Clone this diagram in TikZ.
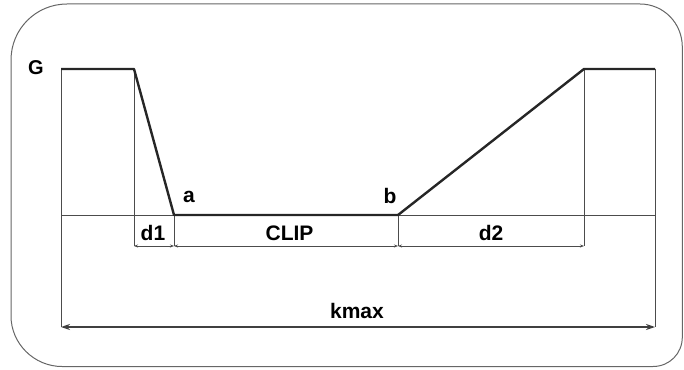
\documentclass[tikz,border=0pt]{standalone}
\usepackage{fontspec}
\setmainfont{Liberation Sans}
\usetikzlibrary{arrows.meta}
\begin{document}
\begin{tikzpicture}[x=1pt,y=-1pt,
  profile/.style={line width=2.4pt, draw=black!85, line join=round},
  thin/.style={line width=0.8pt, draw=black!70},
  dim/.style={line width=0.8pt, draw=black!70, {Stealth[length=4pt,width=3pt]}-{Stealth[length=4pt,width=3pt]}},
  bigdim/.style={line width=1.4pt, draw=black!75, {Stealth[length=9pt,width=6pt]}-{Stealth[length=9pt,width=6pt]}},
  lab/.style={font=\fontsize{21}{21}\selectfont\bfseries, text=black, inner sep=0pt},
  labg/.style={font=\fontsize{20}{20}\selectfont\bfseries, text=black, inner sep=0pt},
  frame/.style={line width=1pt, draw=black!60}]
\useasboundingbox (0,0) rectangle (684,369);
% outer frame with unequal corner radii
\draw[frame] (67,4) -- (640,4)
  .. controls (663.7,4) and (682.3,23.3) .. (682.3,47)
  -- (682.3,337)
  .. controls (682.3,353.5) and (669.5,366.5) .. (653,366.5)
  -- (62,366.5)
  .. controls (34,366.5) and (11,343.5) .. (11,316)
  -- (11,60)
  .. controls (11,29) and (36,4) .. (67,4) -- cycle;
% profile points
\coordinate (p0) at (61,69);
\coordinate (p1) at (134,69);
\coordinate (pa) at (174,215);
\coordinate (pb) at (398,215);
\coordinate (p4) at (584,69);
\coordinate (p5) at (655,69);
% base line and verticals
\coordinate (bl) at (61,215);
\coordinate (br) at (655,215);
\coordinate (k0) at (61,327);
\coordinate (k1) at (655,327);
\coordinate (d0) at (134,246);
\coordinate (d1) at (174,246);
\coordinate (d2) at (398,246);
\coordinate (d3) at (584,246);
\draw[thin] (bl) -- (br);
\draw[thin] (p0) -- (k0);
\draw[thin] (p5) -- (k1);
\draw[thin] (p1) -- (d0);
\draw[thin] (pa) -- (d1);
\draw[thin] (pb) -- (d2);
\draw[thin] (p4) -- (d3);
\draw[profile] (p0) -- (p1) -- (pa) -- (pb) -- (p4) -- (p5);
\draw[dim] (d0) -- (d1);
\draw[dim] (d1) -- (d2);
\draw[dim] (d2) -- (d3);
\draw[bigdim] (k0) -- (k1);
% labels
\node[labg] (G) at (36,68) {G};
\node[lab] (la) at (189,197) {a};
\node[lab] (lb) at (390,196) {b};
\node[lab] (ld1) at (153,233) {d1};
\node[lab] (lclip) at (289.5,233.5) {CLIP};
\node[lab] (ld2) at (491,233) {d2};
\node[lab] (lk) at (357,311) {kmax};
\end{tikzpicture}
\end{document}
